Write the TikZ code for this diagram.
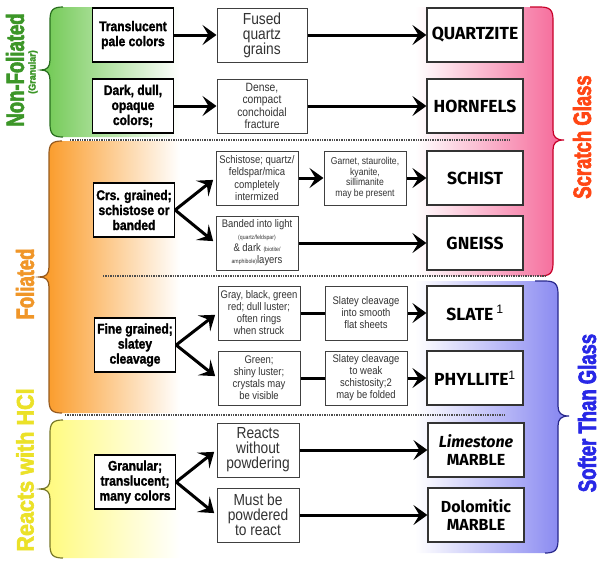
\documentclass[tikz,border=0pt]{standalone}
\usepackage{fontspec}
\setmainfont{Liberation Sans}
\newfontfamily\narrowfont[FakeStretch=0.86]{Liberation Sans}
\newfontfamily\headfont[FakeStretch=0.86, BoldFeatures={FakeBold=1.5}]{Liberation Sans}
\newfontfamily\sidefont[FakeStretch=0.74, BoldFeatures={FakeBold=2.5}]{Liberation Sans}
\newfontfamily\sidewidefont[FakeStretch=0.9, BoldFeatures={FakeBold=2.5}]{Liberation Sans}
\newfontfamily\rockfont{Fira Sans}
\usetikzlibrary{arrows.meta}

\definecolor{nfgreen}{RGB}{110,200,80}
\definecolor{nfline}{RGB}{40,110,30}
\definecolor{nftext}{RGB}{60,150,40}
\definecolor{folorange}{RGB}{250,150,30}
\definecolor{folline}{RGB}{150,90,30}
\definecolor{foltext}{RGB}{240,150,40}
\definecolor{hclyellow}{RGB}{255,250,120}
\definecolor{hclline}{RGB}{120,120,40}
\definecolor{hcltext}{RGB}{235,225,40}
\definecolor{scrpink}{RGB}{245,100,150}
\definecolor{scrline}{RGB}{200,0,40}
\definecolor{scrtext}{RGB}{255,70,20}
\definecolor{softblue}{RGB}{130,130,240}
\definecolor{softline}{RGB}{40,40,140}
\definecolor{softtext}{RGB}{40,40,230}

\begin{document}
\begin{tikzpicture}[x=1pt, y=-1pt,
    head/.style={draw=black, line width=1.3pt, fill=white, minimum width=81pt,
                 minimum height=54pt, inner sep=0pt, align=center,
                 font=\headfont\bfseries\fontsize{14}{15}\selectfont},
    desc/.style={draw=black!75, line width=1pt, fill=white, minimum width=82pt,
                 minimum height=54pt, inner sep=0pt, align=center, text=black!80,
                 font=\narrowfont\fontsize{11}{12}\selectfont},
    rock/.style={draw=black!80, line width=1.2pt, fill=white, minimum width=96pt,
                 minimum height=54pt, inner sep=0pt, align=center,
                 font=\rockfont\bfseries\fontsize{17.5}{18}\selectfont},
    arr/.style={line width=3pt, -{Stealth[length=14pt,width=20pt,inset=6pt]}},
    link/.style={line width=3pt},
    sep/.style={densely dotted, line width=1.4pt, black!70},
    brace/.style={line width=1.2pt},
    side/.style={rotate=90, font=\sidefont\bfseries\fontsize{25}{25}\selectfont},
  ]
  \useasboundingbox (0,0) rectangle (606,566);

  % colour bands with their braces
  \path[left color=nfgreen, middle color=nfgreen!65, right color=white] (180,7) -- (63,7)
    .. controls (53,7) and (50,10) .. (50,20) -- (50,60)
    .. controls (50,67) and (47,70) .. (41,70)
    .. controls (47,70) and (50,73) .. (50,80) -- (50,124)
    .. controls (50,134) and (53,137) .. (63,137) -- (180,137) -- cycle;
  \draw[brace, nfline] (63,7)
    .. controls (53,7) and (50,10) .. (50,20) -- (50,60)
    .. controls (50,67) and (47,70) .. (41,70)
    .. controls (47,70) and (50,73) .. (50,80) -- (50,124)
    .. controls (50,134) and (53,137) .. (63,137);

  \path[left color=folorange, middle color=folorange!65, right color=white] (180,141) -- (62,141)
    .. controls (52,141) and (49,144) .. (49,154) -- (49,267)
    .. controls (49,274) and (46,277) .. (39,277)
    .. controls (46,277) and (49,280) .. (49,287) -- (49,400)
    .. controls (49,410) and (52,413) .. (62,413) -- (180,413) -- cycle;
  \draw[brace, folline] (62,141)
    .. controls (52,141) and (49,144) .. (49,154) -- (49,267)
    .. controls (49,274) and (46,277) .. (39,277)
    .. controls (46,277) and (49,280) .. (49,287) -- (49,400)
    .. controls (49,410) and (52,413) .. (62,413);

  \path[left color=hclyellow, middle color=hclyellow!70, right color=white] (180,420) -- (63,420)
    .. controls (53,420) and (50,423) .. (50,433) -- (50,479)
    .. controls (50,486) and (47,489) .. (40,489)
    .. controls (47,489) and (50,492) .. (50,499) -- (50,545)
    .. controls (50,555) and (53,558) .. (63,558) -- (180,558) -- cycle;
  \draw[brace, hclline] (63,420)
    .. controls (53,420) and (50,423) .. (50,433) -- (50,479)
    .. controls (50,486) and (47,489) .. (40,489)
    .. controls (47,489) and (50,492) .. (50,499) -- (50,545)
    .. controls (50,555) and (53,558) .. (63,558);

  \path[left color=white, middle color=scrpink!55, right color=scrpink] (415,7) -- (540,7)
    .. controls (550,7) and (553,10) .. (553,20) -- (553,130)
    .. controls (553,137) and (556,140) .. (564,140)
    .. controls (556,140) and (553,143) .. (553,150) -- (553,263)
    .. controls (553,273) and (550,276) .. (540,276) -- (415,276) -- cycle;
  \draw[brace, scrline] (530,7) -- (540,7)
    .. controls (550,7) and (553,10) .. (553,20) -- (553,130)
    .. controls (553,137) and (556,140) .. (564,140)
    .. controls (556,140) and (553,143) .. (553,150) -- (553,263)
    .. controls (553,273) and (550,276) .. (540,276);

  \path[left color=white, middle color=softblue!55, right color=softblue] (415,281) -- (545,281)
    .. controls (555,281) and (558,284) .. (558,294) -- (558,406)
    .. controls (558,413) and (561,416) .. (569,416)
    .. controls (561,416) and (558,419) .. (558,426) -- (558,540)
    .. controls (558,550) and (555,553) .. (545,553) -- (415,553) -- cycle;
  \draw[brace, softline] (535,281) -- (545,281)
    .. controls (555,281) and (558,284) .. (558,294) -- (558,406)
    .. controls (558,413) and (561,416) .. (569,416)
    .. controls (561,416) and (558,419) .. (558,426) -- (558,540)
    .. controls (558,550) and (555,553) .. (545,553);

  % separators
  \draw[sep] (70,140) -- (510,140);
  \draw[sep] (103,276) -- (545,276);
  \draw[sep] (65,415) -- (505,415);

  % side labels
  \node[side, text=nftext] (nonfol) at (15,70) {Non-Foliated};
  \node[rotate=90, text=nftext, font=\sidewidefont\bfseries\fontsize{10}{10}\selectfont]
    (granlbl) at (33,72) {(Granular)};
  \node[side, text=foltext] (foliated) at (25,284) {Foliated};
  \node[side, text=hcltext, font=\sidewidefont\bfseries\fontsize{24}{24}\selectfont]
    (hcl) at (25,470) {Reacts with HCl};
  \node[side, text=scrtext] (scratch) at (582,137) {Scratch Glass};
  \node[side, text=softtext] (softer) at (587,413) {Softer Than Glass};

  % non-foliated
  \node[head] (trans) at (133,35) {Translucent\\pale colors};
  \node[head] (dark) at (133,106) {Dark, dull,\\opaque\\colors;};
  \node[desc, minimum width=90pt, font=\narrowfont\fontsize{16}{15}\selectfont]
    (fused) at (262,35) {Fused\\quartz\\grains};
  \node[desc, minimum width=90pt, font=\narrowfont\fontsize{12}{12.5}\selectfont]
    (dense) at (262,106) {Dense,\\compact\\conchoidal\\fracture};
  \node[rock] (quartzite) at (475,35) {QUARTZITE};
  \node[rock] (hornfels) at (475,106) {HORNFELS};

  % foliated, coarse
  \node[head] (crs) at (134,210) {Crs. grained;\\schistose or\\banded};
  \node[desc, font=\narrowfont\fontsize{11}{12.5}\selectfont]
    (schistose) at (257,178) {Schistose; quartz/\\feldspar/mica\\completely\\intermized};
  \node[desc] (banded) at (257,243)
    {Banded into light\\{\fontsize{6}{7}\selectfont(quartz/feldspar)}\\
     \& dark {\fontsize{6}{7}\selectfont(biotite/}\\
     {\fontsize{6}{7}\selectfont amphibole)}layers};
  \node[desc, font=\narrowfont\fontsize{10}{10.5}\selectfont]
    (garnet) at (365,178) {Garnet, staurolite,\\kyanite,\\sillimanite\\may be present};
  \node[rock] (schist) at (475,178) {SCHIST};
  \node[rock] (gneiss) at (475,243) {GNEISS};

  % foliated, fine
  \node[head] (fine) at (135,345) {Fine grained;\\slatey\\cleavage};
  \node[desc] (gray) at (259,313) {Gray, black, green\\red; dull luster;\\often rings\\when struck};
  \node[desc] (green) at (259,378) {Green;\\shiny luster;\\crystals may\\be visible};
  \node[desc] (cleave1) at (366,313) {Slatey cleavage\\into smooth\\flat sheets};
  \node[desc] (cleave2) at (366,378) {Slatey cleavage\\to weak\\schistosity;2\\may be folded};
  \node[rock] (slate) at (475,313) {SLATE\,\textsuperscript{\normalfont 1}};
  \node[rock] (phyllite) at (475,378) {PHYLLITE\textsuperscript{\normalfont 1}};

  % reacts with HCl
  \node[head] (granular) at (135,482) {Granular;\\translucent;\\many colors};
  \node[desc, font=\narrowfont\fontsize{16}{15}\selectfont]
    (nopowder) at (258,450) {Reacts\\without\\powdering};
  \node[desc, font=\narrowfont\fontsize{16}{15}\selectfont]
    (powder) at (258,515) {Must be\\powdered\\to react};
  \node[rock, font=\rockfont\bfseries\fontsize{16}{18}\selectfont]
    (limestone) at (476,450) {{\itshape Limestone}\\MARBLE};
  \node[rock, font=\rockfont\bfseries\fontsize{16}{18}\selectfont]
    (dolomitic) at (476,515) {Dolomitic\\MARBLE};

  % arrows
  \draw[arr] (trans) -- (fused);
  \draw[arr] (fused) -- (quartzite);
  \draw[arr] (dark) -- (dense);
  \draw[arr] (dense) -- (hornfels);
  \draw[arr, shorten >=3pt] (crs.east) -- (schistose.west);
  \draw[arr, shorten >=3pt] (crs.east) -- (banded.west);
  \draw[arr] (schistose) -- (garnet);
  \draw[arr] (garnet) -- (schist);
  \draw[arr] (banded) -- (gneiss);
  \draw[arr, shorten >=3pt] (fine.east) -- (gray.west);
  \draw[arr, shorten >=3pt] (fine.east) -- (green.west);
  \draw[link] (gray) -- (cleave1);
  \draw[link] (green) -- (cleave2);
  \draw[arr] (cleave1) -- (slate);
  \draw[arr] (cleave2) -- (phyllite);
  \draw[arr, shorten >=3pt] (granular.east) -- (nopowder.west);
  \draw[arr, shorten >=3pt] (granular.east) -- (powder.west);
  \draw[arr] (nopowder) -- (limestone);
  \draw[arr] (powder) -- (dolomitic);
\end{tikzpicture}
\end{document}
